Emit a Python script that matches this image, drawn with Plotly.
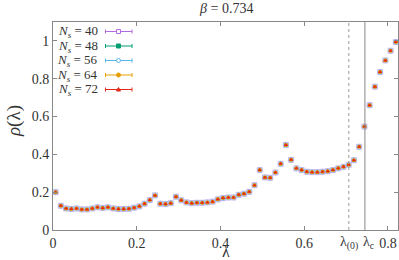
import plotly.graph_objects as go

# lambda grid (66 points)
lam = [0.00625 + 0.0125 * k for k in range(66)]
lam = [round(v, 5) for v in lam]

rho = [0.200, 0.128, 0.114, 0.111, 0.114, 0.109, 0.109, 0.114, 0.120, 0.117,
       0.120, 0.114, 0.111, 0.111, 0.112, 0.118, 0.125, 0.139, 0.158, 0.183,
       0.139, 0.137, 0.142, 0.176, 0.157, 0.146, 0.142, 0.144, 0.144, 0.146,
       0.150, 0.162, 0.169, 0.172, 0.172, 0.186, 0.192, 0.202, 0.237, 0.317,
       0.278, 0.276, 0.304, 0.350, 0.450, 0.371, 0.326, 0.317, 0.308, 0.306,
       0.306, 0.308, 0.311, 0.317, 0.326, 0.334, 0.345, 0.369, 0.440, 0.547,
       0.660, 0.758, 0.835, 0.897, 0.948, 0.994]

rho_Ns40 = list(rho)
rho_Ns48 = list(rho)
rho_Ns56 = list(rho)
rho_Ns64 = list(rho)
rho_Ns72 = list(rho)

sizes_Ns = [40, 48, 56, 64, 72]
series = [rho_Ns40, rho_Ns48, rho_Ns56, rho_Ns64, rho_Ns72]
colors = ["#b36ae2", "#009e73", "#56b4e9", "#e69f00", "#e5281a"]
symbols = ["square-open", "square", "circle-open", "circle", "triangle-up"]
msizes = [5, 3, 5, 4, 4]

lambda0 = 0.7065
lambda_c = 0.745

xticks = [0, 0.2, 0.4, 0.6, 0.8]
xticktext = ["0", "0.2", "0.4", "0.6", "0.8"]
yticks = [0, 0.2, 0.4, 0.6, 0.8, 1.0]
yticktext = ["0", "0.2", "0.4", "0.6", "0.8", "1"]

FONT = "'Liberation Serif', 'DejaVu Serif', serif"
TXT = "#333333"
W, H = 399, 260
L, R, T, B = 53, 1, 22, 30
pw, ph = W - L - R, H - T - B

def px2x(px):
    return (px - L) / pw

def py2y(py):
    return (H - B - py) / ph

fig = go.Figure()
for n, ys, c, s, ms in zip(sizes_Ns, series, colors, symbols, msizes):
    fig.add_trace(go.Scatter(
        x=lam, y=ys, mode="markers", name=f"N_s = {n}",
        marker=dict(color=c, symbol=s, size=ms,
                    line=dict(color=c, width=0.8 if s.endswith("open") else 0)),
        opacity=0.6 if s.endswith("open") else 1,
        showlegend=False))

shapes = []
shapes.append(dict(type="line", xref="x", yref="paper", x0=lambda0, x1=lambda0,
                   y0=0, y1=1, line=dict(color="#999999", width=1, dash="dot")))
shapes.append(dict(type="line", xref="x", yref="paper", x0=lambda_c, x1=lambda_c,
                   y0=0, y1=1, line=dict(color="#888888", width=1)))

annotations = []
# custom key
row_y = [31.5, 46, 60.5, 75, 89.5]
for n, c, s, yy in zip(sizes_Ns, colors, symbols, row_y):
    annotations.append(dict(
        xref="paper", yref="paper", x=px2x(99.5), y=py2y(yy),
        xanchor="right", yanchor="middle", showarrow=False,
        text=f"<i>N</i><sub><i>s</i></sub> = {n}",
        font=dict(family=FONT, size=13, color=TXT)))
    shapes.append(dict(type="line", xref="paper", yref="paper",
                       x0=px2x(105.5), x1=px2x(132), y0=py2y(yy), y1=py2y(yy),
                       line=dict(color=c, width=1)))
    for ex in (105.5, 132):
        shapes.append(dict(type="line", xref="paper", yref="paper",
                           x0=px2x(ex), x1=px2x(ex), y0=py2y(yy - 2), y1=py2y(yy + 2),
                           line=dict(color=c, width=1)))
    mx = 118.5
    if s.startswith("square"):
        shapes.append(dict(type="rect", xref="paper", yref="paper",
                           x0=px2x(mx - 2), x1=px2x(mx + 2), y0=py2y(yy + 2), y1=py2y(yy - 2),
                           line=dict(color=c, width=1),
                           fillcolor="white" if s.endswith("open") else c))
    elif s.startswith("circle"):
        shapes.append(dict(type="circle", xref="paper", yref="paper",
                           x0=px2x(mx - 2), x1=px2x(mx + 2), y0=py2y(yy + 2), y1=py2y(yy - 2),
                           line=dict(color=c, width=1),
                           fillcolor="white" if s.endswith("open") else c))
    else:
        shapes.append(dict(type="path", xref="paper", yref="paper",
                           path=f"M {px2x(mx-2)} {py2y(yy+1.5)} L {px2x(mx+2)} {py2y(yy+1.5)} L {px2x(mx)} {py2y(yy-2)} Z",
                           line=dict(color=c, width=1), fillcolor=c))

annotations.append(dict(xref="x", yref="paper", x=lambda0, y=0, yshift=-2,
                        xanchor="center", yanchor="top", showarrow=False,
                        text="λ<sub>(0)</sub>", font=dict(family=FONT, size=14, color=TXT)))
annotations.append(dict(xref="x", yref="paper", x=lambda_c, y=0, yshift=-2, xshift=-4,
                        xanchor="left", yanchor="top", showarrow=False,
                        text="λ<sub>c</sub>", font=dict(family=FONT, size=14, color=TXT)))
annotations.append(dict(xref="paper", yref="paper", x=0.5, y=py2y(8),
                        xanchor="center", yanchor="middle", showarrow=False,
                        text="<i>β</i> = 0.734", font=dict(family=FONT, size=14, color=TXT)))
# axis titles
annotations.append(dict(xref="paper", yref="paper", x=px2x(226), y=py2y(251),
                        xanchor="center", yanchor="middle", showarrow=False,
                        text="λ", font=dict(family=FONT, size=16, color=TXT)))
annotations.append(dict(xref="paper", yref="paper", x=px2x(14), y=py2y(121),
                        xanchor="center", yanchor="middle", showarrow=False, textangle=-90,
                        text="<i>ρ</i>(λ)", font=dict(family=FONT, size=19, color=TXT)))

axis_common = dict(showline=True, mirror="ticks", linecolor="#888888", linewidth=1,
                   ticks="inside", ticklen=4, tickcolor="#888888", tickwidth=1,
                   showgrid=False, zeroline=False, automargin=False,
                   tickfont=dict(family=FONT, size=14, color=TXT))

fig.update_layout(
    width=W, height=H, margin=dict(l=L, r=R, t=T, b=B, pad=0, autoexpand=False),
    plot_bgcolor="white", paper_bgcolor="white",
    xaxis=dict(range=[0, 0.824], tickvals=xticks, ticktext=xticktext, **axis_common),
    yaxis=dict(range=[0, 1.1], tickvals=yticks, ticktext=yticktext, **axis_common),
    shapes=shapes, annotations=annotations, showlegend=False, hovermode=False)

fig.write_html("out.html", config={"displayModeBar": False, "staticPlot": True},
               post_script="document.body.style.margin='0';document.body.style.padding='0';")
